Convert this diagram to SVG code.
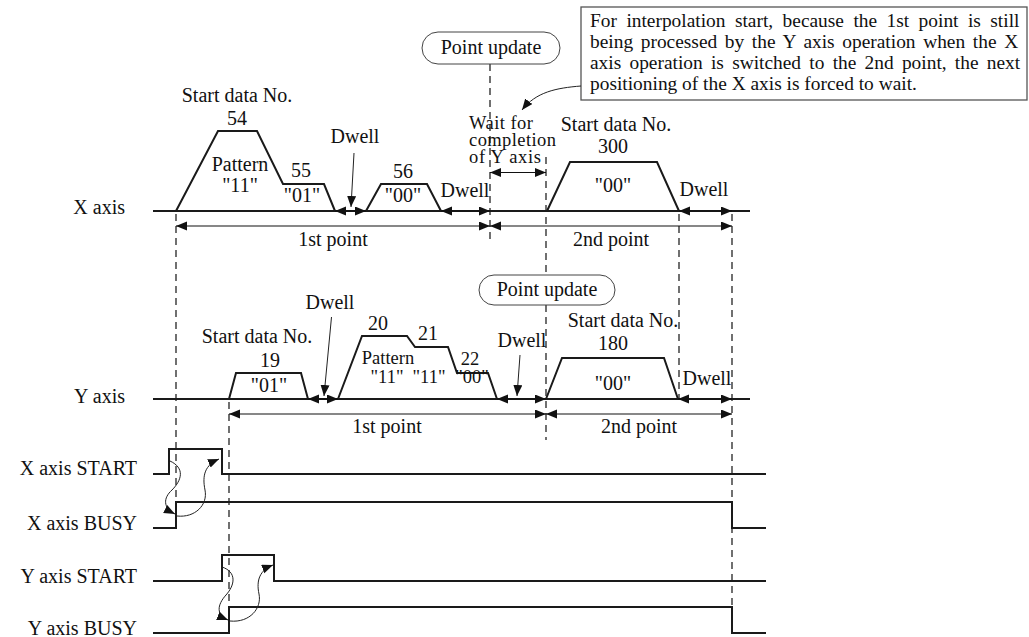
<svg xmlns="http://www.w3.org/2000/svg" width="1029" height="637" viewBox="0 0 1029 637">
<style>
text{font-family:"Liberation Serif","Times New Roman",serif;font-size:20px;fill:#111}
.m{text-anchor:middle}
.e{text-anchor:end}
.s{font-size:18.5px}
.box{font-size:19.4px}
.ax{fill:none;stroke:#1a1a1a;stroke-width:2}
.wave{fill:none;stroke:#1a1a1a;stroke-width:2;stroke-linejoin:miter}
.dim{fill:none;stroke:#111;stroke-width:1.2;marker-start:url(#ah);marker-end:url(#ah)}
.lead{fill:none;stroke:#222;stroke-width:1;marker-end:url(#ah)}
.dash{fill:none;stroke:#111;stroke-width:1.2;stroke-dasharray:7 5}
.pill{fill:#fff;stroke:#444;stroke-width:1}
</style>
<defs>
<marker id="ah" markerUnits="userSpaceOnUse" markerWidth="12" markerHeight="10" refX="11" refY="4.5" orient="auto-start-reverse">
<path d="M0,0 L11,4.5 L0,9 z" fill="#111"/>
</marker>
</defs>

<g id="dashes">
<path class="dash" d="M176,214 V502"/>
<path class="dash" d="M490,64 V240"/>
<path class="dash" d="M546,157 V275 M546,305 V440"/>
<path class="dash" d="M679,214 V399"/>
<path class="dash" d="M732,214 V607"/>
<path class="dash" d="M229,402 V607"/>
</g>

<g id="x-axis">
<path class="ax" d="M153,211 H750"/>
<text class="e" x="125" y="214">X axis</text>
</g>
<g id="x-move-54">
<path class="wave" d="M176,211 L218,131 H257 L283,184 H324 L335,211"/>
<text class="m" x="237" y="102">Start data No.</text>
<text class="m" x="237" y="125">54</text>
<text class="m" x="240" y="171">Pattern</text>
<text class="m" x="240" y="192">"11"</text>
<text class="m" x="301" y="177">55</text>
<text class="m" x="302" y="202">"01"</text>
</g>
<g id="x-move-56">
<path class="wave" d="M366,211 L381,184 H427 L441,211"/>
<text class="m" x="403" y="178">56</text>
<text class="m" x="403" y="202">"00"</text>
</g>
<g id="x-move-300">
<path class="wave" d="M547,211 L570,162 H657 L679,211"/>
<text class="m" x="616" y="131">Start data No.</text>
<text class="m" x="613" y="153">300</text>
<text class="m" x="613" y="192">"00"</text>
</g>
<g id="x-labels">
<text class="m" x="355" y="143">Dwell</text>
<text class="m" x="465" y="197">Dwell</text>
<text class="m" x="704" y="196">Dwell</text>
<text class="s" x="469" y="129" textLength="64">Wait for</text>
<text class="s" x="469" y="146" textLength="87">completion</text>
<text class="s" x="469" y="163" textLength="72">of Y axis</text>
<text class="m" x="333" y="246">1st point</text>
<text class="m" x="611" y="246">2nd point</text>
</g>
<g id="x-point-update">
<rect class="pill" x="422" y="32" width="138" height="32" rx="16"/>
<text class="m" x="491" y="54">Point update</text>
</g>

<g id="note">
<rect x="581" y="7" width="446" height="93" fill="#fff" stroke="#555" stroke-width="1.3"/>
<text class="box" x="590" y="27" word-spacing="4.6">For interpolation start, because the 1st point is still</text>
<text class="box" x="590" y="48" word-spacing="2.8">being processed by the Y axis operation when the X</text>
<text class="box" x="590" y="69" word-spacing="3.4">axis operation is switched to the 2nd point, the next</text>
<text class="box" x="590" y="90">positioning of the X axis is forced to wait.</text>
</g>

<g id="y-axis">
<path class="ax" d="M153,399 H750"/>
<text class="e" x="125" y="403">Y axis</text>
</g>
<g id="y-move-19">
<path class="wave" d="M229,399 L236,373 H301 L308,399"/>
<text class="m" x="257" y="343">Start data No.</text>
<text class="m" x="270" y="367">19</text>
<text class="m" x="269" y="392">"01"</text>
</g>
<g id="y-move-20">
<path class="wave" d="M338,399 L362,336 H407 L415,347 H448 L457,373 H488 L497,399"/>
<text class="m" x="378" y="330">20</text>
<text class="m" x="428" y="340">21</text>
<text class="m s" x="470" y="365">22</text>
<text class="m s" x="388" y="364">Pattern</text>
<text class="m s" x="387" y="383">"11"</text>
<text class="m s" x="429" y="383">"11"</text>
<text class="m s" x="472" y="383">"00"</text>
</g>
<g id="y-move-180">
<path class="wave" d="M546,399 L562,358 H664 L678,399"/>
<text class="m" x="623" y="327">Start data No.</text>
<text class="m" x="613" y="350">180</text>
<text class="m" x="613" y="390">"00"</text>
</g>
<g id="y-labels">
<text class="m" x="330" y="309">Dwell</text>
<text class="m" x="522" y="347">Dwell</text>
<text class="m" x="707" y="385">Dwell</text>
<text class="m" x="387" y="433">1st point</text>
<text class="m" x="639" y="433">2nd point</text>
</g>
<g id="y-point-update">
<rect class="pill" x="479" y="275" width="136" height="30" rx="15"/>
<text class="m" x="547" y="296">Point update</text>
</g>

<g id="signals">
<path class="wave" d="M153,474 H169 V449 H222 V474 H766"/>
<path class="wave" d="M153,528 H176 V502 H732 V528 H766"/>
<path class="wave" d="M153,581 H222 V555 H274 V581 H766"/>
<path class="wave" d="M153,633 H229 V607 H732 V633 H766"/>
<text class="e" x="137" y="475">X axis START</text>
<text class="e" x="137" y="530">X axis BUSY</text>
<text class="e" x="137" y="583">Y axis START</text>
<text class="e" x="137" y="635">Y axis BUSY</text>
</g>

<g id="connectors">
<path class="dim" d="M335,211 H366"/>
<path class="dim" d="M441,211 H490"/>
<path class="dim" d="M679,211 H732"/>
<path class="dim" d="M176,226 H490"/>
<path class="dim" d="M490,226 H732"/>
<path class="dim" d="M490,172.5 H546"/>
<path class="dim" d="M308,399 H338"/>
<path class="dim" d="M497,399 H546"/>
<path class="dim" d="M678,399 H732"/>
<path class="dim" d="M229,414 H546"/>
<path class="dim" d="M546,414 H732"/>
<path class="lead" d="M354,153 L351,207"/>
<path class="lead" d="M331.5,317 L324,396"/>
<path class="lead" d="M520,355 L517,396"/>
<path class="lead" d="M581,86 C556,88 536,92 522,110"/>
<path class="lead" d="M170,461 C185,468 182,480 172,490 C163,498 163,508 175,514"/>
<path class="lead" d="M177,516 C195,518 208,505 205,490 C202,475 205,465 219,459"/>
<path class="lead" d="M222,567 C237,572 235,585 226,595 C217,605 216,615 228,620"/>
<path class="lead" d="M230,621 C250,623 262,608 259,594 C256,580 260,570 273,565"/>
</g>
</svg>
